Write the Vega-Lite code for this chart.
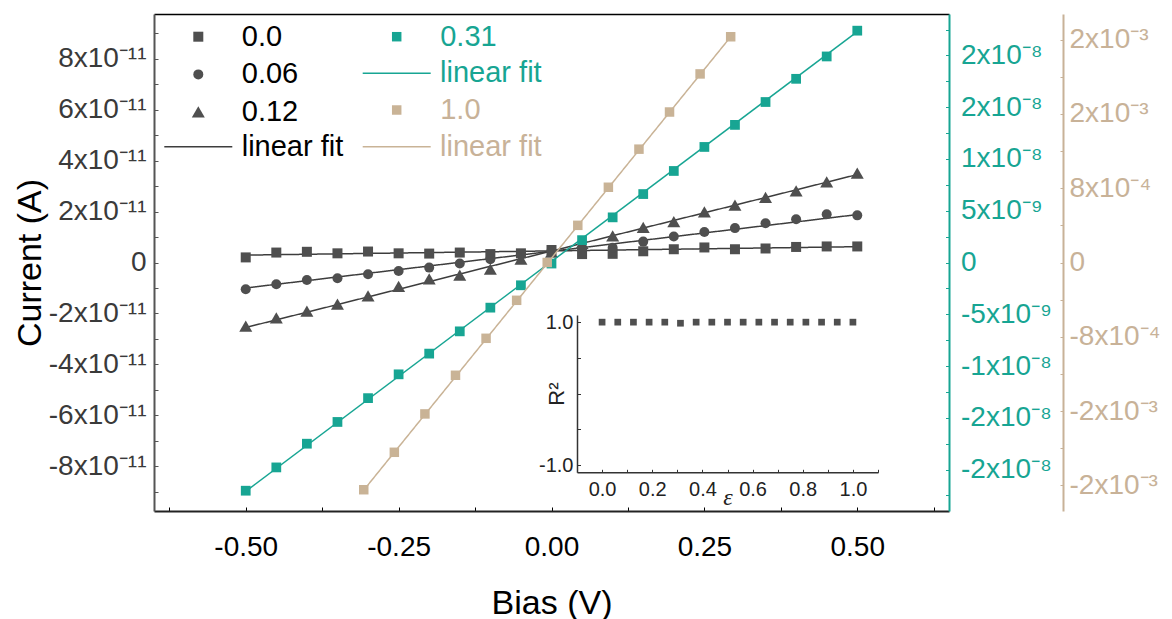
{
  "$schema": "https://vega.github.io/schema/vega-lite/v6.json",
  "width": 795,
  "height": 497,
  "autosize": {"type": "none"},
  "padding": {"left": 154, "top": 14, "right": 223, "bottom": 108},
  "background": "white",
  "config": {
    "view": {"stroke": null},
    "font": "Liberation Sans",
    "axis": {"grid": false, "labelFont": "Liberation Sans", "titleFont": "Liberation Sans", "titleFontWeight": "normal", "labelOverlap": false, "labelFlush": false, "labelBound": false},
    "legend": {"labelFont": "Liberation Sans", "labelFontSize": 29, "labelLimit": 300, "padding": 0, "title": null}
  },
  "datasets": {
    "black": [
      {"bias": -0.5, "current": 0.20e-11, "series": "0.0"},
      {"bias": -0.45, "current": 0.39e-11, "series": "0.0"},
      {"bias": -0.4, "current": 0.42e-11, "series": "0.0"},
      {"bias": -0.35, "current": 0.36e-11, "series": "0.0"},
      {"bias": -0.3, "current": 0.43e-11, "series": "0.0"},
      {"bias": -0.25, "current": 0.36e-11, "series": "0.0"},
      {"bias": -0.2, "current": 0.35e-11, "series": "0.0"},
      {"bias": -0.15, "current": 0.39e-11, "series": "0.0"},
      {"bias": -0.1, "current": 0.33e-11, "series": "0.0"},
      {"bias": -0.05, "current": 0.36e-11, "series": "0.0"},
      {"bias": 0, "current": 0.49e-11, "series": "0.0"},
      {"bias": 0.05, "current": 0.33e-11, "series": "0.0"},
      {"bias": 0.1, "current": 0.34e-11, "series": "0.0"},
      {"bias": 0.15, "current": 0.44e-11, "series": "0.0"},
      {"bias": 0.2, "current": 0.52e-11, "series": "0.0"},
      {"bias": 0.25, "current": 0.59e-11, "series": "0.0"},
      {"bias": 0.3, "current": 0.52e-11, "series": "0.0"},
      {"bias": 0.35, "current": 0.55e-11, "series": "0.0"},
      {"bias": 0.4, "current": 0.61e-11, "series": "0.0"},
      {"bias": 0.45, "current": 0.63e-11, "series": "0.0"},
      {"bias": 0.5, "current": 0.63e-11, "series": "0.0"},
      {"bias": -0.5, "current": -1.05e-11, "series": "0.06"},
      {"bias": -0.45, "current": -0.85e-11, "series": "0.06"},
      {"bias": -0.4, "current": -0.69e-11, "series": "0.06"},
      {"bias": -0.35, "current": -0.62e-11, "series": "0.06"},
      {"bias": -0.3, "current": -0.46e-11, "series": "0.06"},
      {"bias": -0.25, "current": -0.33e-11, "series": "0.06"},
      {"bias": -0.2, "current": -0.20e-11, "series": "0.06"},
      {"bias": -0.15, "current": -0.04e-11, "series": "0.06"},
      {"bias": -0.1, "current": 0.13e-11, "series": "0.06"},
      {"bias": -0.05, "current": 0.33e-11, "series": "0.06"},
      {"bias": 0, "current": 0.45e-11, "series": "0.06"},
      {"bias": 0.05, "current": 0.55e-11, "series": "0.06"},
      {"bias": 0.1, "current": 0.58e-11, "series": "0.06"},
      {"bias": 0.15, "current": 0.82e-11, "series": "0.06"},
      {"bias": 0.2, "current": 1.02e-11, "series": "0.06"},
      {"bias": 0.25, "current": 1.20e-11, "series": "0.06"},
      {"bias": 0.3, "current": 1.35e-11, "series": "0.06"},
      {"bias": 0.35, "current": 1.54e-11, "series": "0.06"},
      {"bias": 0.4, "current": 1.70e-11, "series": "0.06"},
      {"bias": 0.45, "current": 1.89e-11, "series": "0.06"},
      {"bias": 0.5, "current": 1.85e-11, "series": "0.06"},
      {"bias": -0.5, "current": -2.50e-11, "series": "0.12"},
      {"bias": -0.45, "current": -2.18e-11, "series": "0.12"},
      {"bias": -0.4, "current": -1.91e-11, "series": "0.12"},
      {"bias": -0.35, "current": -1.64e-11, "series": "0.12"},
      {"bias": -0.3, "current": -1.31e-11, "series": "0.12"},
      {"bias": -0.25, "current": -0.94e-11, "series": "0.12"},
      {"bias": -0.2, "current": -0.65e-11, "series": "0.12"},
      {"bias": -0.15, "current": -0.50e-11, "series": "0.12"},
      {"bias": -0.1, "current": -0.26e-11, "series": "0.12"},
      {"bias": -0.05, "current": 0.13e-11, "series": "0.12"},
      {"bias": 0, "current": 0.40e-11, "series": "0.12"},
      {"bias": 0.05, "current": 0.75e-11, "series": "0.12"},
      {"bias": 0.1, "current": 1.04e-11, "series": "0.12"},
      {"bias": 0.15, "current": 1.37e-11, "series": "0.12"},
      {"bias": 0.2, "current": 1.60e-11, "series": "0.12"},
      {"bias": 0.25, "current": 1.98e-11, "series": "0.12"},
      {"bias": 0.3, "current": 2.25e-11, "series": "0.12"},
      {"bias": 0.35, "current": 2.55e-11, "series": "0.12"},
      {"bias": 0.4, "current": 2.81e-11, "series": "0.12"},
      {"bias": 0.45, "current": 3.16e-11, "series": "0.12"},
      {"bias": 0.5, "current": 3.50e-11, "series": "0.12"}
    ],
    "blackfit": [
      {"bias": -0.5, "current": 0.29e-11, "series": "0.0", "fit": "fitA"},
      {"bias": 0.5, "current": 0.62e-11, "series": "0.0", "fit": "fitA"},
      {"bias": -0.5, "current": -1.00e-11, "series": "0.06", "fit": "fitA"},
      {"bias": 0.5, "current": 1.88e-11, "series": "0.06", "fit": "fitA"},
      {"bias": -0.5, "current": -2.55e-11, "series": "0.12", "fit": "fitA"},
      {"bias": 0.5, "current": 3.45e-11, "series": "0.12", "fit": "fitA"}
    ],
    "teal": [
      {"bias": -0.5, "current": -22.04e-9, "series": "0.31"},
      {"bias": -0.45, "current": -19.79e-9, "series": "0.31"},
      {"bias": -0.4, "current": -17.5e-9, "series": "0.31"},
      {"bias": -0.35, "current": -15.4e-9, "series": "0.31"},
      {"bias": -0.3, "current": -13.1e-9, "series": "0.31"},
      {"bias": -0.25, "current": -10.8e-9, "series": "0.31"},
      {"bias": -0.2, "current": -8.8e-9, "series": "0.31"},
      {"bias": -0.15, "current": -6.65e-9, "series": "0.31"},
      {"bias": -0.1, "current": -4.36e-9, "series": "0.31"},
      {"bias": -0.05, "current": -2.2e-9, "series": "0.31"},
      {"bias": 0, "current": -0.1e-9, "series": "0.31"},
      {"bias": 0.05, "current": 2.16e-9, "series": "0.31"},
      {"bias": 0.1, "current": 4.36e-9, "series": "0.31"},
      {"bias": 0.15, "current": 6.61e-9, "series": "0.31"},
      {"bias": 0.2, "current": 8.84e-9, "series": "0.31"},
      {"bias": 0.25, "current": 11.16e-9, "series": "0.31"},
      {"bias": 0.3, "current": 13.29e-9, "series": "0.31"},
      {"bias": 0.35, "current": 15.5e-9, "series": "0.31"},
      {"bias": 0.4, "current": 17.74e-9, "series": "0.31"},
      {"bias": 0.45, "current": 19.9e-9, "series": "0.31"},
      {"bias": 0.5, "current": 22.39e-9, "series": "0.31"}
    ],
    "tealfit": [
      {"bias": -0.5, "current": -22.1e-9, "fit": "fitB"},
      {"bias": 0.5, "current": 22.3e-9, "fit": "fitB"}
    ],
    "tan": [
      {"bias": -0.307, "current": -24.46e-4, "series": "1.0"},
      {"bias": -0.257, "current": -20.43e-4, "series": "1.0"},
      {"bias": -0.207, "current": -16.3e-4, "series": "1.0"},
      {"bias": -0.157, "current": -12.14e-4, "series": "1.0"},
      {"bias": -0.107, "current": -8.16e-4, "series": "1.0"},
      {"bias": -0.057, "current": -4.07e-4, "series": "1.0"},
      {"bias": -0.007, "current": 0.0, "series": "1.0"},
      {"bias": 0.043, "current": 4.0e-4, "series": "1.0"},
      {"bias": 0.093, "current": 8.1e-4, "series": "1.0"},
      {"bias": 0.143, "current": 12.2e-4, "series": "1.0"},
      {"bias": 0.193, "current": 16.2e-4, "series": "1.0"},
      {"bias": 0.243, "current": 20.3e-4, "series": "1.0"},
      {"bias": 0.293, "current": 24.3e-4, "series": "1.0"}
    ],
    "tanfit": [
      {"bias": -0.307, "current": -24.5e-4, "fit": "fitC"},
      {"bias": 0.293, "current": 24.3e-4, "fit": "fitC"}
    ],
    "inset": [
      {"eps": 0, "r2": 1.0},
      {"eps": 0.0625, "r2": 1.0},
      {"eps": 0.125, "r2": 1.0},
      {"eps": 0.1875, "r2": 1.0},
      {"eps": 0.25, "r2": 1.0},
      {"eps": 0.3125, "r2": 0.985},
      {"eps": 0.375, "r2": 1.0},
      {"eps": 0.4375, "r2": 1.0},
      {"eps": 0.5, "r2": 1.0},
      {"eps": 0.5625, "r2": 1.0},
      {"eps": 0.625, "r2": 1.0},
      {"eps": 0.6875, "r2": 1.0},
      {"eps": 0.75, "r2": 1.0},
      {"eps": 0.8125, "r2": 1.0},
      {"eps": 0.875, "r2": 1.0},
      {"eps": 0.9375, "r2": 1.0},
      {"eps": 1.0, "r2": 1.0}
    ]
  },
  "layer": [
    {
      "encoding": {
        "x": {
          "field": "bias", "type": "quantitative",
          "scale": {"domain": [-0.65, 0.65], "nice": false, "zero": false},
          "axis": {
            "orient": "bottom",
            "title": "Bias (V)", "titleFontSize": 34, "titleColor": "#000", "titlePadding": 25,
            "values": [-0.625, -0.5, -0.375, -0.25, -0.125, 0, 0.125, 0.25, 0.375, 0.5, 0.625],
            "labelExpr": "round(datum.value*8) % 2 != 0 ? '' : (datum.value < 0 ? '-' : '') + format(abs(datum.value), '.2f')",
            "labelFontSize": 28, "labelColor": "#000", "labelPadding": 26,
            "tickSize": -4, "tickColor": "#000", "tickWidth": 1,
            "domainColor": "#222", "domainWidth": 1.8
          }
        },
        "y": {
          "field": "current", "type": "quantitative",
          "scale": {"domain": [-9.75e-11, 9.75e-11], "nice": false, "zero": false},
          "axis": {
            "orient": "left",
            "title": "Current (A)", "titleFontSize": 34, "titleColor": "#000", "titlePadding": 1,
            "values": [-9e-11, -8e-11, -7e-11, -6e-11, -5e-11, -4e-11, -3e-11, -2e-11, -1e-11, 0, 1e-11, 2e-11, 3e-11, 4e-11, 5e-11, 6e-11, 7e-11, 8e-11, 9e-11],
            "labelExpr": "round(datum.value*1e11) % 2 != 0 ? '' : round(datum.value*1e11) == 0 ? '0' : round(datum.value*1e11) + 'x10⁻¹¹'",
            "labelFontSize": 28, "labelColor": "#3a3a3a", "labelPadding": 12,
            "tickSize": -4, "tickColor": "#555", "tickWidth": 1,
            "domainColor": "#555", "domainWidth": 2
          }
        }
      },
      "layer": [
        {
          "data": {"name": "blackfit"},
          "mark": {"type": "line", "color": "#3d3d3d", "strokeWidth": 1.5},
          "encoding": {
            "detail": {"field": "series", "type": "nominal"},
            "strokeDash": {
              "field": "fit", "type": "nominal",
              "scale": {"domain": ["fitA"], "range": [[1, 0]]},
              "legend": {
                "orient": "none", "legendX": 9.3, "legendY": 97.7,
                "symbolType": "stroke", "symbolSize": 4624, "symbolStrokeWidth": 1.5, "symbolStrokeColor": "#3d3d3d",
                "symbolOffset": 0, "labelOffset": 8.4, "labelColor": "#000",
                "labelExpr": "'linear fit'"
              }
            }
          }
        },
        {
          "data": {"name": "black"},
          "mark": {"type": "point", "filled": true, "opacity": 1, "color": "#4f4f4f"},
          "encoding": {
            "size": {"field": "series", "type": "nominal", "scale": {"domain": ["0.12", "0.06", "0.0"], "range": [100, 100, 92]}, "legend": null},
            "shape": {
              "field": "series", "type": "nominal",
              "scale": {"domain": ["0.0", "0.06", "0.12"], "range": ["square", "circle", "M0,-1.15L1.3,1.1L-1.3,1.1Z"]},
              "legend": {
                "orient": "none", "legendX": 29.8, "legendY": 8.2,
                "symbolSize": 100, "symbolOffset": 0, "labelOffset": 29, "rowPadding": 7.7,
                "labelColor": "#000", "symbolFillColor": "#4f4f4f"
              }
            }
          }
        }
      ]
    },
    {
      "encoding": {
        "x": {
          "field": "bias", "type": "quantitative",
          "scale": {"domain": [-0.65, 0.65], "nice": false, "zero": false},
          "axis": {"orient": "top", "labels": false, "ticks": false, "title": null, "domainColor": "#000", "domainWidth": 1.5}
        },
        "y": {
          "field": "current", "type": "quantitative",
          "scale": {"domain": [-2.4e-8, 2.4e-8], "nice": false, "zero": false},
          "axis": {
            "orient": "right", "title": null,
            "values": [-2.25e-8, -2e-8, -1.75e-8, -1.5e-8, -1.25e-8, -1e-8, -7.5e-9, -5e-9, -2.5e-9, 0, 2.5e-9, 5e-9, 7.5e-9, 1e-8, 1.25e-8, 1.5e-8, 1.75e-8, 2e-8, 2.25e-8],
            "labelExpr": "round(datum.value*4e8) % 2 != 0 ? '' : datum.value == 0 ? '0' : (datum.value < 0 ? '-' : '') + (abs(datum.value) > 9e-9 ? round(abs(datum.value)*1e8 + 1e-6) + 'x10⁻⁸' : round(abs(datum.value)*1e9 + 1e-6) + 'x10⁻⁹')",
            "labelFontSize": 28, "labelColor": "#17a593", "labelPadding": 15,
            "tickSize": -3.5, "tickColor": "#17a593", "tickWidth": 1,
            "domainColor": "#17a593", "domainWidth": 2
          }
        }
      },
      "layer": [
        {
          "data": {"name": "tealfit"},
          "mark": {"type": "line", "strokeWidth": 1.5},
          "encoding": {
            "stroke": {
              "field": "fit", "type": "nominal",
              "scale": {"domain": ["fitB"], "range": ["#17a593"]},
              "legend": {
                "orient": "none", "legendX": 207.7, "legendY": 24.3,
                "symbolType": "stroke", "symbolSize": 4624, "symbolStrokeWidth": 1.5,
                "symbolOffset": 0, "labelOffset": 8.4, "labelColor": "#17a593",
                "labelExpr": "'linear fit'"
              }
            }
          }
        },
        {
          "data": {"name": "teal"},
          "mark": {"type": "point", "filled": true, "opacity": 1, "shape": "square", "size": 95},
          "encoding": {
            "color": {
              "field": "series", "type": "nominal",
              "scale": {"domain": ["0.31"], "range": ["#17a593"]},
              "legend": {
                "orient": "none", "legendX": 228.2, "legendY": 8.2,
                "symbolSize": 90, "symbolOffset": 0, "labelOffset": 29,
                "labelColor": "#17a593"
              }
            }
          }
        }
      ]
    },
    {
      "encoding": {
        "x": {
          "field": "bias", "type": "quantitative",
          "scale": {"domain": [-0.65, 0.65], "nice": false, "zero": false},
          "axis": null
        },
        "y": {
          "field": "current", "type": "quantitative",
          "scale": {"domain": [-2.675e-3, 2.675e-3], "nice": false, "zero": false},
          "axis": {
            "orient": "right", "title": null, "offset": 114,
            "values": [-2.4e-3, -2e-3, -1.6e-3, -1.2e-3, -8e-4, -4e-4, 0, 4e-4, 8e-4, 1.2e-3, 1.6e-3, 2e-3, 2.4e-3],
            "labelExpr": "round(datum.value*2500) % 2 != 0 ? '' : datum.value == 0 ? '0' : (datum.value < 0 ? '-' : '') + (abs(datum.value) > 9e-4 ? round(abs(datum.value)*1e3 + 1e-6) + 'x10⁻³' : round(abs(datum.value)*1e4 + 1e-6) + 'x10⁻⁴')",
            "labelFontSize": 28, "labelColor": "#c8b298", "labelPadding": 9,
            "tickSize": -3, "tickColor": "#c8b298", "tickWidth": 1,
            "domainColor": "#c8b298", "domainWidth": 2
          }
        }
      },
      "layer": [
        {
          "data": {"name": "tanfit"},
          "mark": {"type": "line", "color": "#c9b396", "strokeWidth": 1.5},
          "encoding": {
            "strokeDash": {
              "field": "fit", "type": "nominal",
              "scale": {"domain": ["fitC"], "range": [[1, 0]]},
              "legend": {
                "orient": "none", "legendX": 207.7, "legendY": 97.7,
                "symbolType": "stroke", "symbolSize": 4624, "symbolStrokeWidth": 1.5, "symbolStrokeColor": "#c9b396",
                "symbolOffset": 0, "labelOffset": 8.4, "labelColor": "#c8b298",
                "labelExpr": "'linear fit'"
              }
            }
          }
        },
        {
          "data": {"name": "tan"},
          "mark": {"type": "point", "filled": true, "opacity": 1, "shape": "square", "size": 90},
          "encoding": {
            "fill": {
              "field": "series", "type": "nominal",
              "scale": {"domain": ["1.0"], "range": ["#c9b396"]},
              "legend": {
                "orient": "none", "legendX": 228.2, "legendY": 81.5,
                "symbolSize": 90, "symbolOffset": 0, "labelOffset": 29,
                "labelColor": "#c8b298"
              }
            }
          }
        }
      ]
    },
    {
      "data": {"name": "inset"},
      "mark": {"type": "point", "filled": true, "opacity": 1, "shape": "square", "size": 45, "color": "#4f4f4f"},
      "encoding": {
        "x": {
          "field": "eps", "type": "quantitative",
          "scale": {"domain": [-0.1, 1.1], "nice": false, "zero": false, "range": [423, 724]},
          "axis": {
            "orient": "bottom", "offset": -38.7,
            "title": "ε", "titleFont": "Liberation Serif", "titleFontStyle": "italic", "titleFontSize": 24, "titleColor": "#222", "titlePadding": -14,
            "values": [0, 0.1, 0.2, 0.3, 0.4, 0.5, 0.6, 0.7, 0.8, 0.9, 1.0, 1.1],
            "labelExpr": "round(datum.value*10) % 2 != 0 ? '' : format(datum.value, '.1f')",
            "labelFontSize": 20, "labelColor": "#222", "labelPadding": 10,
            "tickSize": -3, "tickColor": "#333", "tickWidth": 1,
            "domainColor": "#333", "domainWidth": 1.5
          }
        },
        "y": {
          "field": "r2", "type": "quantitative",
          "scale": {"domain": [-1.1, 1.1], "nice": false, "zero": false, "range": [458.3, 301]},
          "axis": {
            "orient": "left", "offset": -423,
            "title": "R²", "titleFontSize": 22, "titleColor": "#222", "titlePadding": -30,
            "values": [-1, -0.5, 0, 0.5, 1],
            "labelExpr": "abs(datum.value) == 1 ? (datum.value < 0 ? '-1.0' : '1.0') : ''",
            "labelFontSize": 20, "labelColor": "#222", "labelPadding": 7.5,
            "tickSize": -3.5, "tickColor": "#333", "tickWidth": 1,
            "domainColor": "#333", "domainWidth": 1.5
          }
        }
      }
    }
  ],
  "resolve": {
    "scale": {"x": "independent", "y": "independent", "strokeDash": "independent"},
    "axis": {"x": "independent", "y": "independent"},
    "legend": {"strokeDash": "independent"}
  }
}
